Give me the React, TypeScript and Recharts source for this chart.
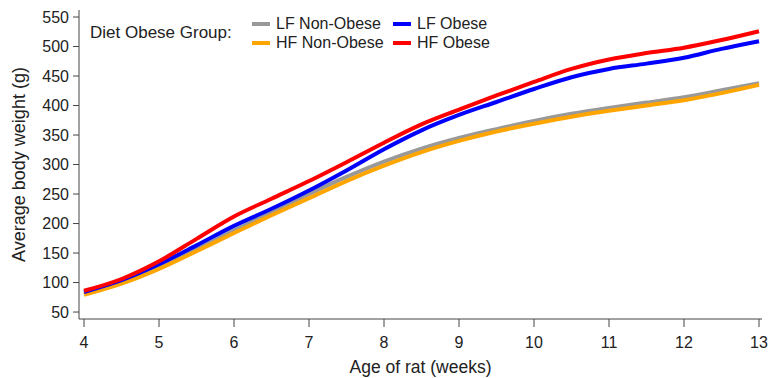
import { LineChart, Line, XAxis, YAxis } from "recharts";

const weeks = [4, 4.5, 5, 5.5, 6, 6.5, 7, 7.5, 8, 8.5, 9, 9.5, 10, 10.5, 11, 11.5, 12, 12.5, 13];
const lfNonObese = [81, 101, 126, 156, 188, 219, 250, 279, 305, 327, 345, 360, 374, 386, 396, 405, 414, 426, 438];
const hfNonObese = [79, 98, 123, 153, 184, 214, 243, 272, 298, 321, 340, 356, 369, 381, 391, 400, 409, 421, 435];
const lfObese = [84, 104, 131, 163, 196, 225, 256, 290, 326, 358, 384, 406, 428, 448, 462, 471, 481, 496, 509];
const hfObese = [86, 106, 136, 174, 212, 242, 272, 304, 337, 368, 393, 417, 440, 462, 478, 489, 498, 511, 526];

const seriesNames = ["LF Non-Obese", "HF Non-Obese", "LF Obese", "HF Obese"];
const seriesKeys = ["lfNon", "hfNon", "lfOb", "hfOb"];
const seriesColors = ["#999999", "#FFA500", "#0000FF", "#FF0000"];

const xTicks = [4, 5, 6, 7, 8, 9, 10, 11, 12, 13];
const yTicks = [50, 100, 150, 200, 250, 300, 350, 400, 450, 500, 550];

const data = weeks.map((w, i) => ({
  week: w,
  lfNon: lfNonObese[i],
  hfNon: hfNonObese[i],
  lfOb: lfObese[i],
  hfOb: hfObese[i],
}));

const font = '"Liberation Sans", Arial, sans-serif';

function LegendBox() {
  return (
    <div
      style={{
        position: "absolute",
        left: 90,
        top: 14,
        display: "flex",
        alignItems: "center",
        fontFamily: font,
        color: "#222",
        whiteSpace: "nowrap",
      }}
    >
      <div style={{ fontSize: 17, width: 162 }}>Diet Obese Group:</div>
      <div
        style={{
          display: "grid",
          gridTemplateRows: "19px 19px",
          gridAutoFlow: "column",
          gridTemplateColumns: "141px 120px",
          fontSize: 16,
        }}
      >
        {seriesNames.map((n, i) => (
          <div key={n} style={{ display: "flex", alignItems: "center" }}>
            <span style={{ display: "inline-block", width: 18, height: 4, background: seriesColors[i], marginRight: 6 }} />
            <span>{n}</span>
          </div>
        ))}
      </div>
    </div>
  );
}

export default function App() {
  return (
    <div style={{ position: "absolute", left: 0, top: 0, width: 768, height: 378, background: "#fff" }}>
      <LineChart width={768} height={378} data={data} margin={{ top: 10, right: 6, bottom: 0, left: 0 }}>
        <XAxis
          dataKey="week"
          type="number"
          domain={[3.933, 13.04]}
          allowDataOverflow
          ticks={xTicks}
          height={59}
          tickSize={8}
          tickMargin={10}
          stroke="#444"
          tick={{ fill: "#222", fontSize: 16, fontFamily: font }}
          label={{ value: "Age of rat (weeks)", position: "insideBottom", offset: 5, fill: "#222", fontSize: 17.5, fontFamily: font }}
        />
        <YAxis
          type="number"
          domain={[38.2, 561.9]}
          allowDataOverflow
          ticks={yTicks}
          width={79}
          tickSize={6}
          tickMargin={4}
          stroke="#444"
          tick={{ fill: "#222", fontSize: 16, fontFamily: font }}
          label={{
            value: "Average body weight (g)",
            angle: -90,
            position: "insideLeft",
            offset: 19,
            fill: "#222",
            fontSize: 18,
            fontFamily: font,
            style: { textAnchor: "middle" },
          }}
        />
        {seriesKeys.map((k, i) => (
          <Line
            key={k}
            name={seriesNames[i]}
            dataKey={k}
            type="monotone"
            stroke={seriesColors[i]}
            strokeWidth={4}
            dot={false}
            isAnimationActive={false}
          />
        ))}
      </LineChart>
      <LegendBox />
    </div>
  );
}
